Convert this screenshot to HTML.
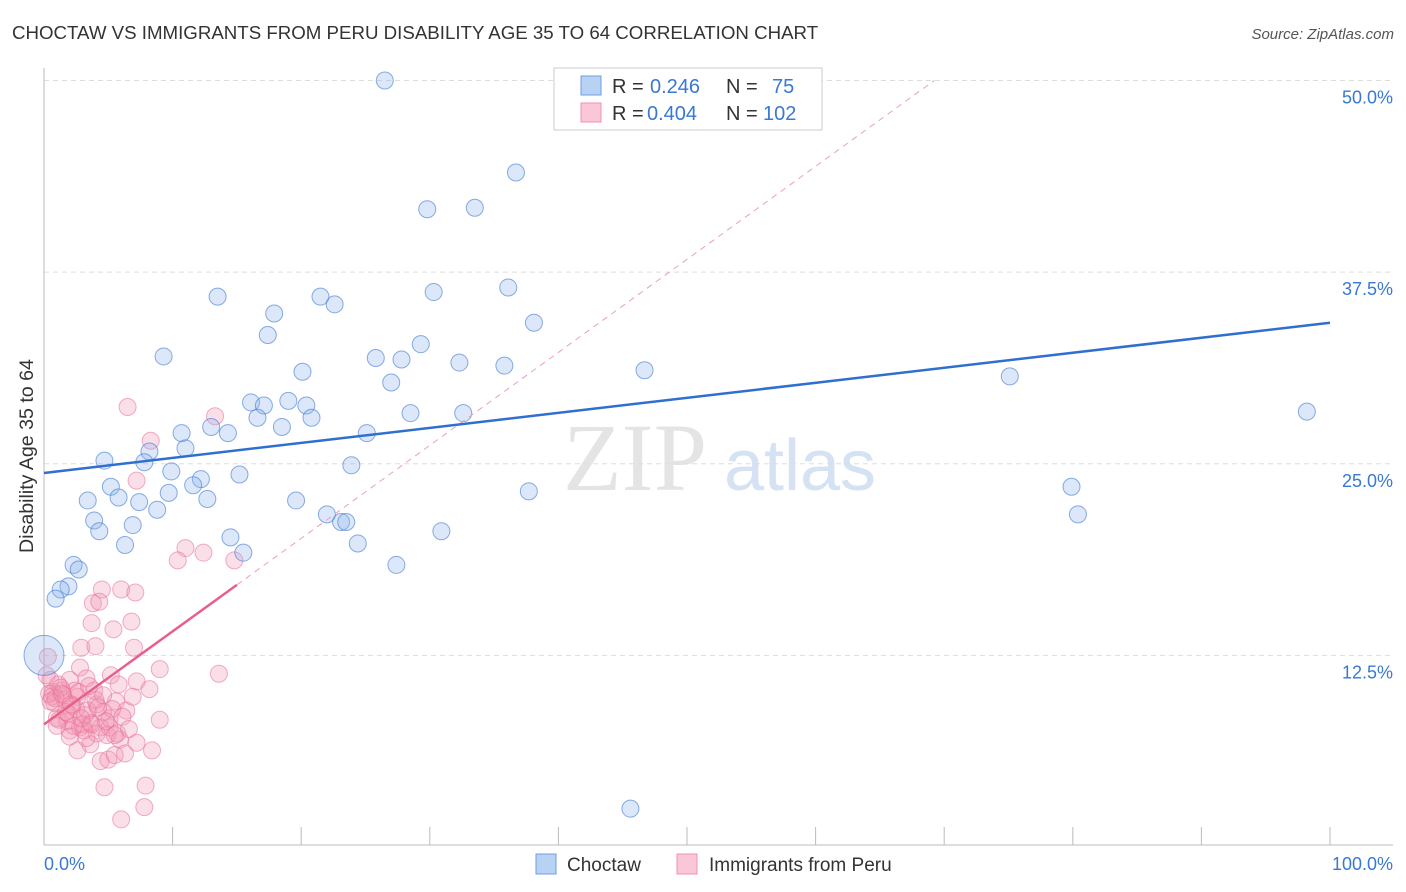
<!DOCTYPE html>
<html><head><meta charset="utf-8"><style>
body{margin:0;background:#fff;font-family:"Liberation Sans",sans-serif;}
#wrap{position:relative;width:1406px;height:892px;overflow:hidden}
</style></head><body><div id="wrap">
<svg id="svg" width="1406" height="892" xmlns="http://www.w3.org/2000/svg" font-family="Liberation Sans, sans-serif">
<text x="12" y="39" font-size="18.7" fill="#333">CHOCTAW VS IMMIGRANTS FROM PERU DISABILITY AGE 35 TO 64 CORRELATION CHART</text>
<text x="1394" y="39" font-size="15" fill="#555" text-anchor="end" font-style="italic">Source: ZipAtlas.com</text>
<text x="33" y="456" font-size="19.6" fill="#333" text-anchor="middle" transform="rotate(-90 33 456)">Disability Age 35 to 64</text>
<text x="635" y="490" font-size="96" fill="#e4e4e4" font-family="Liberation Serif, serif" text-anchor="middle">ZIP</text>
<text x="800" y="490" font-size="72" fill="#d5e2f3" text-anchor="middle">atlas</text>
<g id="grid"></g><g id="axes"></g><g id="pink"></g><g id="blue"></g><g id="lines"></g>
<g>
<rect x="554" y="68" width="268" height="62" fill="#fff" stroke="#ccc"/>
<rect x="581" y="76" width="20" height="19" fill="#b8d2f3" stroke="#6e9fe0"/>
<rect x="581" y="103" width="20" height="19" fill="#f9c7d6" stroke="#ef93b0"/>
<text x="612" y="93" font-size="20" fill="#333">R =</text><text x="650" y="93" font-size="20" fill="#3a78d4">0.246</text>
<text x="726" y="93" font-size="20" fill="#333">N =</text><text x="772" y="93" font-size="20" fill="#3a78d4">75</text>
<text x="612" y="120" font-size="20" fill="#333">R =</text><text x="647" y="120" font-size="20" fill="#3a78d4">0.404</text>
<text x="726" y="120" font-size="20" fill="#333">N =</text><text x="763" y="120" font-size="20" fill="#3a78d4">102</text>
</g>
<g>
<rect x="536" y="854" width="20" height="20" fill="#b8d2f3" stroke="#6e9fe0"/>
<text x="567" y="871" font-size="19" fill="#333">Choctaw</text>
<rect x="677" y="854" width="20" height="20" fill="#f9c7d6" stroke="#ef93b0"/>
<text x="709" y="871" font-size="19" fill="#333">Immigrants from Peru</text>
</g>
</svg></div>
<script>
const yTicks=[12.5,25,37.5,50];
const yTickLabels=["12.5%","25.0%","37.5%","50.0%"];
const blueX=[26.5,36.7,29.8,33.5,13.5,21.5,22.6,30.3,36.1,17.9,38.1,17.4,29.3,25.8,27.8,32.3,35.8,9.3,20.1,27.0,46.7,75.1,98.2,16.1,17.1,19.0,20.4,16.6,20.8,28.5,32.6,18.5,13.0,14.3,10.7,25.1,11.0,8.2,7.8,4.7,23.9,9.9,15.2,12.2,11.6,5.2,9.7,37.7,79.9,5.8,3.4,7.4,12.7,19.6,8.8,22.0,80.4,3.9,23.1,23.5,6.9,4.3,30.9,14.5,6.3,24.4,15.5,2.3,27.4,2.7,1.9,1.3,0.9,0,45.6];
const blueY=[50.0,44.0,41.6,41.7,35.9,35.9,35.4,36.2,36.5,34.8,34.2,33.4,32.8,31.9,31.8,31.6,31.4,32.0,31.0,30.3,31.1,30.7,28.4,29.0,28.8,29.1,28.8,28.0,28.0,28.3,28.3,27.4,27.4,27.0,27.0,27.0,26.0,25.8,25.1,25.2,24.9,24.5,24.3,24.0,23.6,23.5,23.1,23.2,23.5,22.8,22.6,22.5,22.7,22.6,22.0,21.7,21.7,21.3,21.2,21.2,21.0,20.6,20.6,20.2,19.7,19.8,19.2,18.4,18.4,18.1,17.0,16.8,16.2,12.5,2.5];
const pinkX=[4.5,6.0,7.1,3.8,4.3,3.7,5.4,6.8,2.9,4.0,7.0,9.0,13.6,2.8,3.3,5.2,5.8,7.2,8.2,0.7,0.6,1.4,2.0,2.6,5.6,6.4,4.1,4.6,9.0,1.0,1.8,2.0,2.8,3.6,4.4,5.1,4.1,4.9,5.9,7.2,8.4,2.6,3.6,4.4,5.0,5.5,6.3,4.7,7.9,7.8,6.0,0.3,0.5,1.1,1.6,2.4,3.2,1.2,3.9,5.1,6.5,13.3,8.3,7.2,11.0,10.4,12.4,14.8,0.2,0.8,1.5,2.2,3.0,1.3,2.5,3.4,4.0,0.4,1.9,2.7,3.1,5.3,6.1,0.9,1.7,2.3,4.8,5.7,3.5,2.1,6.6,0.5,1.0,4.2,3.3,2.9,1.4,6.9,5.5,2.0,3.7,4.6];
const pinkY=[16.8,16.8,16.6,15.9,16.0,14.6,14.2,14.7,13.0,13.1,13.0,11.6,11.3,11.7,11.0,11.2,10.6,10.8,10.3,10.1,9.8,10.2,10.9,9.8,9.5,8.9,9.3,8.8,8.3,8.4,8.2,7.6,7.8,8.1,7.8,7.8,7.4,7.3,7.0,6.8,6.3,6.3,6.7,5.6,5.7,6.0,6.1,3.9,4.0,2.6,1.8,12.4,10.9,10.6,9.6,10.2,8.6,8.3,10.2,8.4,28.7,28.1,26.5,23.9,19.5,18.7,19.2,18.7,11.2,9.4,9.9,9.2,8.0,10.4,9.0,8.9,9.6,10.0,8.7,10.1,7.6,9.0,8.5,9.7,8.8,7.9,8.2,7.4,10.5,9.3,7.7,9.5,7.9,9.1,7.1,8.4,10.0,9.8,7.3,7.2,8.0,9.9];
const blueTrend=[24.4,34.2];
const pinkTrend=[8.0,17.1];
const pinkTrendEndX=15;
const X=v=>44+v*12.86, Y=v=>847-v*15.33;
const NS="http://www.w3.org/2000/svg";
function mk(t,a,p){const e=document.createElementNS(NS,t);for(const k in a)e.setAttribute(k,a[k]);p.appendChild(e);return e;}
const grid=document.getElementById('grid');
yTicks.forEach((t,i)=>{
 const l=mk('line',{x1:44,x2:1393,y1:Y(t),y2:Y(t),stroke:'#ddd','stroke-dasharray':'5,4'},grid);
 
 
 const tx=mk('text',{x:1393,y:Y(t)+23,'font-size':18,fill:'#3a78d4','text-anchor':'end'},grid);tx.textContent=yTickLabels[i];
 
 
});
const ax=document.getElementById('axes');
mk('line',{x1:44,x2:44,y1:68,y2:845,stroke:'#bbb'},ax);
mk('line',{x1:44,x2:1393,y1:845,y2:845,stroke:'#bbb'},ax);
for(let i=1;i<=10;i++)mk('line',{x1:X(i*10),x2:X(i*10),y1:827,y2:845,stroke:'#bbb'},ax);
let t0=mk('text',{x:44,y:870,'font-size':18,fill:'#3a78d4'},ax);t0.textContent='0.0%';


let t1=mk('text',{x:1393,y:870,'font-size':18,fill:'#3a78d4','text-anchor':'end'},ax);t1.textContent='100.0%';


const pg=document.getElementById('pink');
pinkX.forEach((v,i)=>{const c=mk('circle',{cx:X(v),cy:Y(pinkY[i]),r:8.5,fill:'rgba(243,150,180,0.3)',stroke:'rgba(232,110,150,0.55)','stroke-width':1},pg);
 
 });
const bg=document.getElementById('blue');
blueX.forEach((v,i)=>{const big=(v===0&&blueY[i]===12.5);const c=mk('circle',{cx:X(v),cy:Y(blueY[i]),r:big?20:8.5,fill:'rgba(140,180,235,0.3)',stroke:'rgba(60,120,210,0.6)','stroke-width':1},bg);
 
 });
const lg=document.getElementById('lines');
const pslope=(pinkTrend[1]-pinkTrend[0])/pinkTrendEndX;
const dl=mk('line',{x1:X(pinkTrendEndX),y1:Y(pinkTrend[1]),x2:X((50-pinkTrend[0])/pslope),y2:Y(50),stroke:'#eaa0b8','stroke-dasharray':'6,5','stroke-width':1},lg);


const pl=mk('line',{x1:X(0),y1:Y(pinkTrend[0]),x2:X(pinkTrendEndX),y2:Y(pinkTrend[1]),stroke:'#e8608a','stroke-width':2.5},lg);


const bl=mk('line',{x1:X(0),y1:Y(blueTrend[0]),x2:X(100),y2:Y(blueTrend[1]),stroke:'#2f6fd0','stroke-width':2.5},lg);


</script></body></html>
